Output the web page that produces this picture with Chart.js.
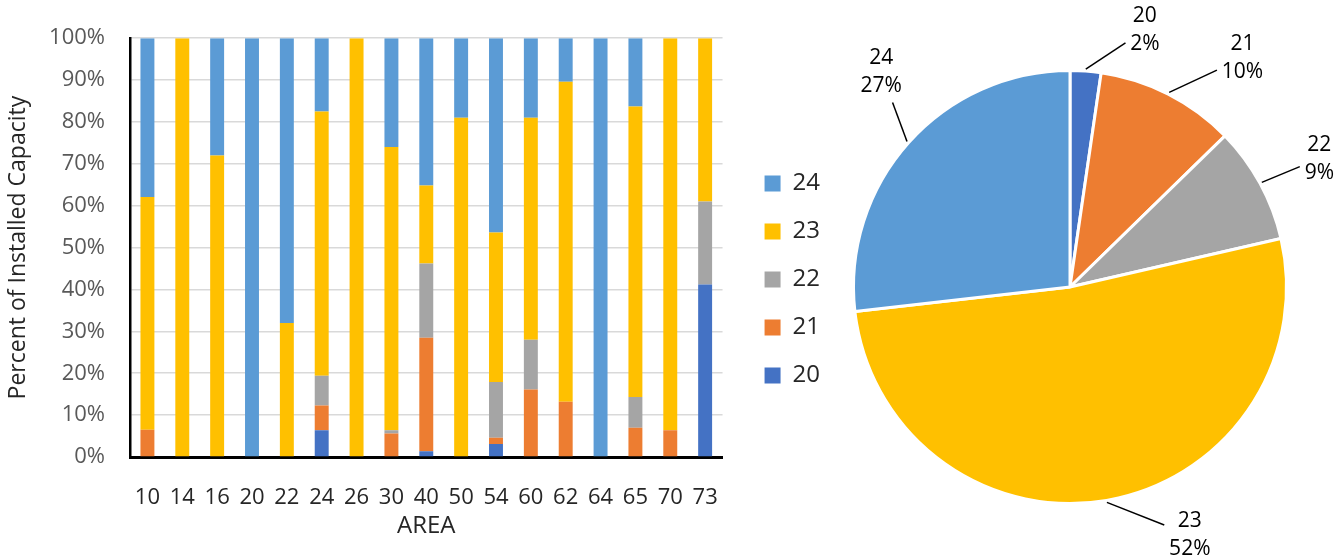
<!DOCTYPE html>
<html>
<head>
<meta charset="utf-8">
<script src="https://cdn.jsdelivr.net/npm/chart.js@4.4.0/dist/chart.umd.min.js"></script>
<style>
  body { margin: 0; background: #fff; }
  #bars { position: absolute; left: 0; top: 0; }
  #pie { position: absolute; left: 840px; top: 0; }
</style>
</head>
<body>
<canvas id="bars" width="830" height="559"></canvas>
<canvas id="pie" width="497" height="559"></canvas>
<script>
// data
const areas = ['10', '14', '16', '20', '22', '24', '26', '30', '40', '50', '54', '60', '62', '64', '65', '70', '73'];
const series = ['20', '21', '22', '23', '24'];
const cap20 = [0, 0, 0, 0, 0, 6.4, 0, 0, 1.4, 0, 3.1, 0, 0, 0, 0, 0, 41.2];
const cap21 = [6.5, 0, 0, 0, 0, 5.9, 0, 5.6, 27.1, 0, 1.5, 16.1, 13.2, 0, 7, 6.4, 0];
const cap22 = [0, 0, 0, 0, 0, 7.1, 0, 0.8, 17.7, 0, 13.3, 11.9, 0, 0, 7.3, 0, 19.8];
const cap23 = [55.6, 100, 72, 0, 32, 63.1, 100, 67.6, 18.6, 81, 35.7, 53, 76.4, 0, 69.4, 93.6, 39];
const cap24 = [37.9, 0, 28, 100, 68, 17.5, 0, 26, 35.2, 19, 46.4, 19, 10.4, 100, 16.3, 0, 0];
const pieShares = [2.3, 10.4, 8.7, 51.8, 26.8];

const colors = ['#4472C4', '#ED7D31', '#A5A5A5', '#FFC000', '#5B9BD5'];
const capValues = [cap20, cap21, cap22, cap23, cap24];

Chart.defaults.font.family = "'Open Sans', sans-serif";

// push the legend a bit away from the plot and center it on the full height
const legendShift = {
  id: 'legendShift',
  afterLayout(chart) {
    chart.legend.left += 18;
    chart.legend.right += 18;
    chart.legend.top = 0;
    chart.legend.bottom = chart.height;
  }
};

const barChart = new Chart(document.getElementById('bars'), {
  type: 'bar',
  data: {
    labels: areas,
    datasets: series.map((name, i) => ({
      label: name,
      data: capValues[i],
      backgroundColor: colors[i],
      borderWidth: 0,
      barPercentage: 0.4,
      categoryPercentage: 1,
    }))
  },
  options: {
    responsive: false,
    animation: false,
    layout: { padding: { top: 22, right: 18, left: 0, bottom: 0 } },
    plugins: {
      legend: {
        position: 'right',
        reverse: true,
        labels: {
          boxWidth: 16,
          boxHeight: 16,
          padding: 24,
          color: '#262626',
          font: { size: 24 }
        }
      },
      tooltip: { enabled: false }
    },
    scales: {
      x: {
        stacked: true,
        grid: { display: false },
        border: { display: true, color: '#000', width: 3 },
        ticks: { color: '#262626', font: { size: 22 }, padding: 20, maxRotation: 0 },
        title: { display: true, text: 'AREA', color: '#262626', font: { size: 24 }, padding: { top: 0, bottom: 18 } },
        afterFit: s => { s.height = 102; }
      },
      y: {
        stacked: true,
        min: 0,
        max: 100,
        ticks: { stepSize: 10, color: '#595959', font: { size: 22 }, padding: 25, callback: v => v + '%' },
        grid: { color: '#d9d9d9', lineWidth: 1.5, drawTicks: false },
        border: { display: true, color: '#000', width: 2.5 },
        title: { display: true, text: 'Percent of Installed Capacity', color: '#262626', font: { size: 23 }, padding: { top: 5, bottom: 0 } },
        afterFit: s => { s.width = 130; }
      }
    }
  },
  plugins: [legendShift]
});

// outside labels with leader lines, like the spreadsheet pie
const pieLabelNudge = [11, 10, 2, -15, 7];
const pieOutsideLabels = {
  id: 'pieOutsideLabels',
  afterDatasetsDraw(chart) {
    const ctx = chart.ctx;
    const meta = chart.getDatasetMeta(0);
    const data = chart.data.datasets[0].data;
    const total = data.reduce((a, b) => a + b, 0);
    ctx.save();
    ctx.font = "21px 'Open Sans', sans-serif";
    ctx.textAlign = 'center';
    ctx.textBaseline = 'middle';
    meta.data.forEach((arc, i) => {
      const p = arc.getProps(['x', 'y', 'startAngle', 'endAngle', 'outerRadius'], true);
      const mid = (p.startAngle + p.endAngle) / 2;
      const a = mid + pieLabelNudge[i] * Math.PI / 180;
      const lines = [chart.data.labels[i], Math.round(data[i] / total * 100) + '%'];
      const hw = Math.max(...lines.map(t => ctx.measureText(t).width)) / 2 + 3;
      const hh = 29;
      let lx = p.x + Math.cos(a) * (p.outerRadius + 70);
      let ly = p.y + Math.sin(a) * (p.outerRadius + 70);
      lx = Math.min(Math.max(lx, hw), chart.width - hw);
      ly = Math.min(Math.max(ly, 30), chart.height - 24);
      const sx = p.x + Math.cos(mid) * (p.outerRadius + 2);
      const sy = p.y + Math.sin(mid) * (p.outerRadius + 2);
      const dx = lx - sx, dy = ly - sy;
      const len = Math.hypot(dx, dy);
      const ux = dx / len, uy = dy / len;
      const edge = Math.min(Math.abs(ux) > 1e-6 ? hw / Math.abs(ux) : 1e9, Math.abs(uy) > 1e-6 ? hh / Math.abs(uy) : 1e9);
      const reach = len - edge - 2;
      if (reach > 4) {
        ctx.strokeStyle = '#000';
        ctx.lineWidth = 1.5;
        ctx.beginPath();
        ctx.moveTo(sx, sy);
        ctx.lineTo(sx + ux * reach, sy + uy * reach);
        ctx.stroke();
      }
      ctx.fillStyle = '#000';
      ctx.fillText(lines[0], lx, ly - 14);
      ctx.fillText(lines[1], lx, ly + 14);
    });
    ctx.restore();
  }
};

const pieChart = new Chart(document.getElementById('pie'), {
  type: 'pie',
  data: {
    labels: series,
    datasets: [{
      data: pieShares,
      backgroundColor: colors,
      borderColor: '#fff',
      borderWidth: 3
    }]
  },
  options: {
    responsive: false,
    animation: false,
    layout: { padding: { left: 12, right: 49, top: 69, bottom: 54 } },
    plugins: {
      legend: { display: false },
      tooltip: { enabled: false }
    }
  },
  plugins: [pieOutsideLabels]
});
</script>
</body>
</html>
